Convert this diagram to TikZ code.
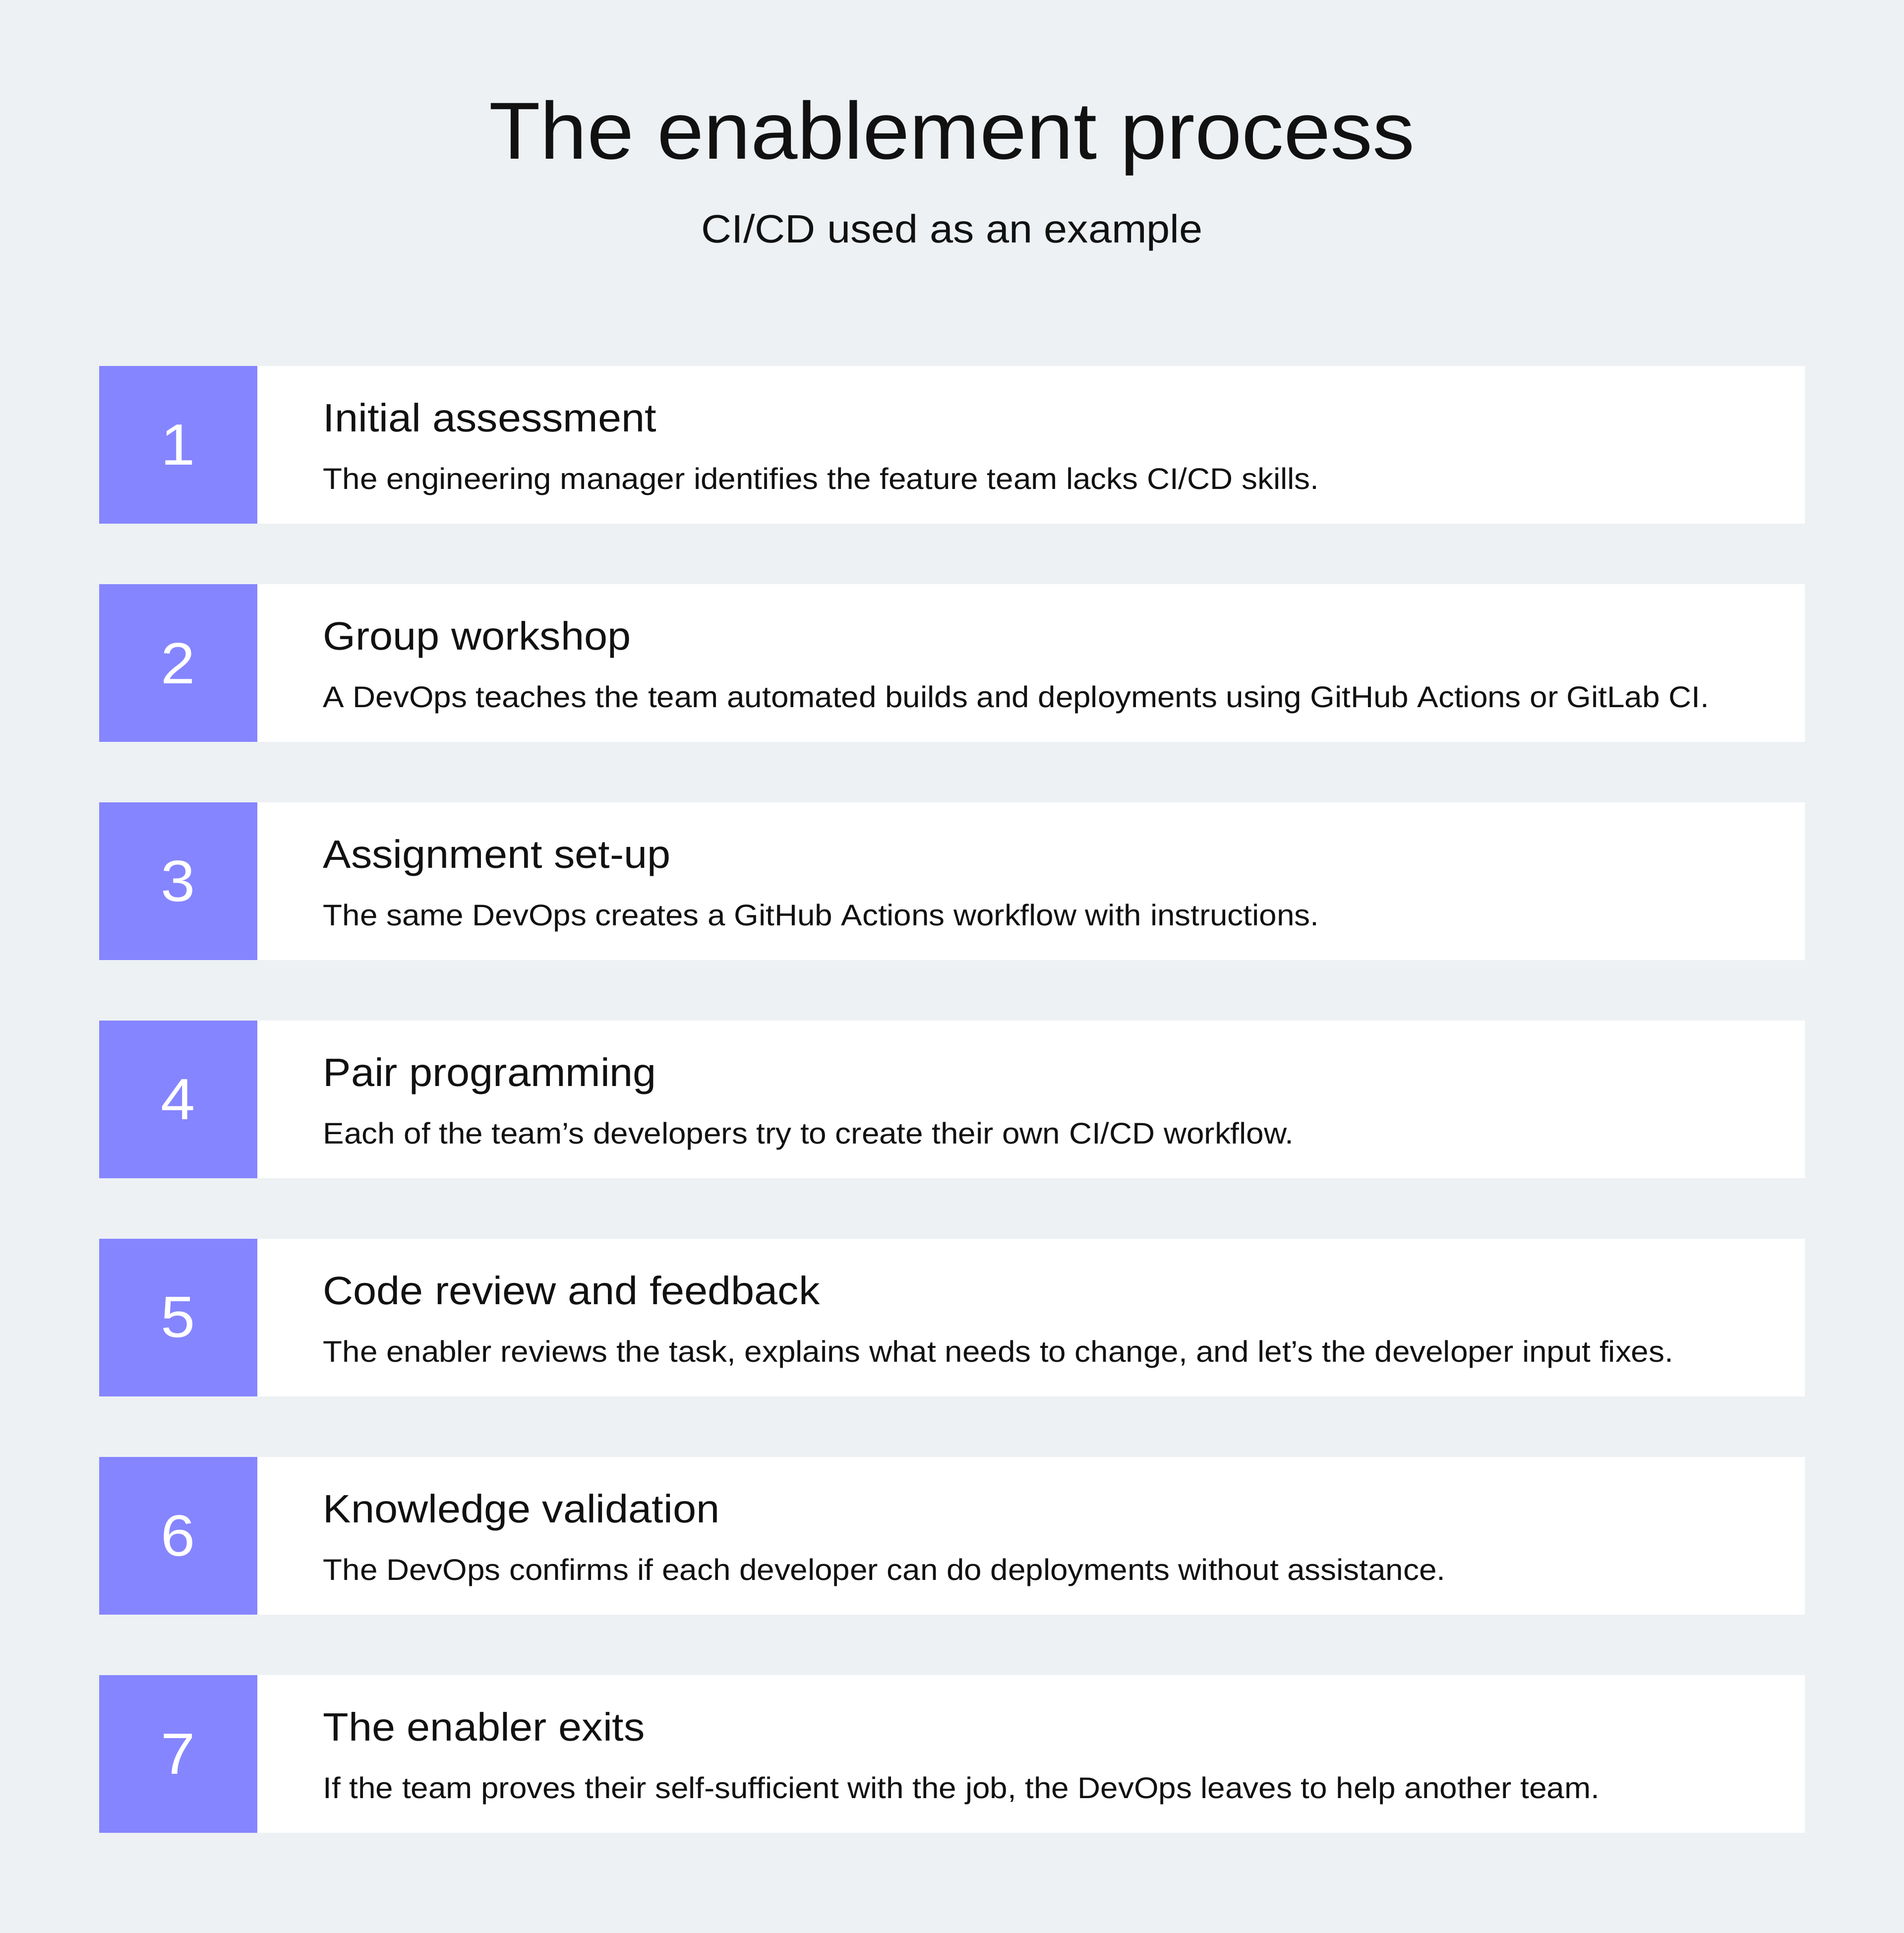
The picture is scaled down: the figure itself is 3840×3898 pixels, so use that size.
\documentclass[tikz,border=0pt]{standalone}
\usepackage{fontspec}
\setmainfont{Liberation Sans}[FakeStretch=1.06]
\newfontfamily\titlefont{Liberation Sans}[FakeStretch=1.04]
\definecolor{EPPaper}{HTML}{EDF1F4}
\definecolor{EPViolet}{HTML}{8585FF}
\definecolor{EPInk}{HTML}{111111}

\begin{document}
\begin{tikzpicture}[x=0.01cm,y=-0.01cm,
    badge/.style={fill=EPViolet,text=white,minimum width=3.18cm,minimum height=3.18cm,
      inner sep=0pt,font=\fontsize{33.4}{40}\selectfont},
    card/.style={fill=white,minimum width=31.2cm,minimum height=3.18cm,inner sep=0pt},
    head/.style={anchor=base west,inner sep=0pt,text=EPInk,font=\fontsize{22.7}{27}\selectfont},
    desc/.style={anchor=base west,inner sep=0pt,text=EPInk,font=\fontsize{17.1}{21}\selectfont}]
  \fill[EPPaper] (0,0) rectangle (3840,3898);
  \useasboundingbox (0,0) rectangle (3840,3898);
  \node[anchor=base,inner sep=0pt,text=EPInk,font=\titlefont\fontsize{46.4}{56}\selectfont] (title) at (1920,320) {The enablement process};
  \node[anchor=base,inner sep=0pt,text=EPInk,font=\fontsize{22.7}{27}\selectfont] (subtitle) at (1920,489) {CI/CD used as an example};

  \node[card] (card1) at (2079,897) {};
  \node[badge] (badge1) at (359.5,897) {1};
  \node[head] (head1) at (651,870) {Initial assessment};
  \node[desc] (desc1) at (651,986) {The engineering manager identifies the feature team lacks CI/CD skills.};

  \node[card] (card2) at (2079,1337) {};
  \node[badge] (badge2) at (359.5,1337) {2};
  \node[head] (head2) at (651,1310) {Group workshop};
  \node[desc] (desc2) at (651,1426) {A DevOps teaches the team automated builds and deployments using GitHub Actions or GitLab CI.};

  \node[card] (card3) at (2079,1777) {};
  \node[badge] (badge3) at (359.5,1777) {3};
  \node[head] (head3) at (651,1750) {Assignment set-up};
  \node[desc] (desc3) at (651,1866) {The same DevOps creates a GitHub Actions workflow with instructions.};

  \node[card] (card4) at (2079,2217) {};
  \node[badge] (badge4) at (359.5,2217) {4};
  \node[head] (head4) at (651,2190) {Pair programming};
  \node[desc] (desc4) at (651,2306) {Each of the team’s developers try to create their own CI/CD workflow.};

  \node[card] (card5) at (2079,2657) {};
  \node[badge] (badge5) at (359.5,2657) {5};
  \node[head] (head5) at (651,2630) {Code review and feedback};
  \node[desc] (desc5) at (651,2746) {The enabler reviews the task, explains what needs to change, and let’s the developer input fixes.};

  \node[card] (card6) at (2079,3097) {};
  \node[badge] (badge6) at (359.5,3097) {6};
  \node[head] (head6) at (651,3070) {Knowledge validation};
  \node[desc] (desc6) at (651,3186) {The DevOps confirms if each developer can do deployments without assistance.};

  \node[card] (card7) at (2079,3537) {};
  \node[badge] (badge7) at (359.5,3537) {7};
  \node[head] (head7) at (651,3510) {The enabler exits};
  \node[desc] (desc7) at (651,3626) {If the team proves their self-sufficient with the job, the DevOps leaves to help another team.};
\end{tikzpicture}
\end{document}
